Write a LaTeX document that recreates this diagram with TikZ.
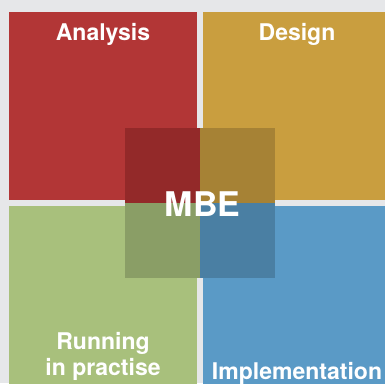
\documentclass[tikz,border=0pt]{standalone}
\usepackage{fontspec}
\setmainfont{TeX Gyre Heros}
\definecolor{bgc}{RGB}{230,231,233}
\definecolor{redc}{RGB}{178,54,54}
\definecolor{goldc}{RGB}{201,158,63}
\definecolor{greenc}{RGB}{168,192,124}
\definecolor{bluec}{RGB}{90,154,198}
\definecolor{dredc}{RGB}{147,41,41}
\definecolor{dgoldc}{RGB}{166,130,53}
\definecolor{dgreenc}{RGB}{138,158,102}
\definecolor{dbluec}{RGB}{74,127,163}
\tikzset{
  lbl/.style={text=white, font=\bfseries\fontsize{23}{26}\selectfont, anchor=base, inner sep=0pt, align=center},
  big/.style={text=white, font=\bfseries\fontsize{34}{38}\selectfont, anchor=base, inner sep=0pt}
}
\begin{document}
\begin{tikzpicture}[x=1pt,y=-1pt]
\useasboundingbox (0,0) rectangle (385,383);
\fill[bgc] (0,0) rectangle (385,383);
\begin{scope}
\clip (0,0) rectangle (385,383);
\fill[redc] (9,12) rectangle (197,200);
\fill[goldc] (203,12) rectangle (391,200);
\fill[greenc] (9,206) rectangle (197,394);
\fill[bluec] (203,206) rectangle (391,394);
\fill[dredc] (125,128) rectangle (200,203);
\fill[dgoldc] (200,128) rectangle (275,203);
\fill[dgreenc] (125,203) rectangle (200,278);
\fill[dbluec] (200,203) rectangle (275,278);
\node[lbl] (analysis) at (103,40) {Analysis};
\node[lbl] (design) at (297,40) {Design};
\node[lbl] (running) at (103,349) {Running};
\node[lbl] (practise) at (103,375) {in practise};
\node[lbl] (impl) at (297,379) {Implementation};
\node[big] (mbe) at (202.5,216.5) {MBE};
\end{scope}
\end{tikzpicture}
\end{document}
